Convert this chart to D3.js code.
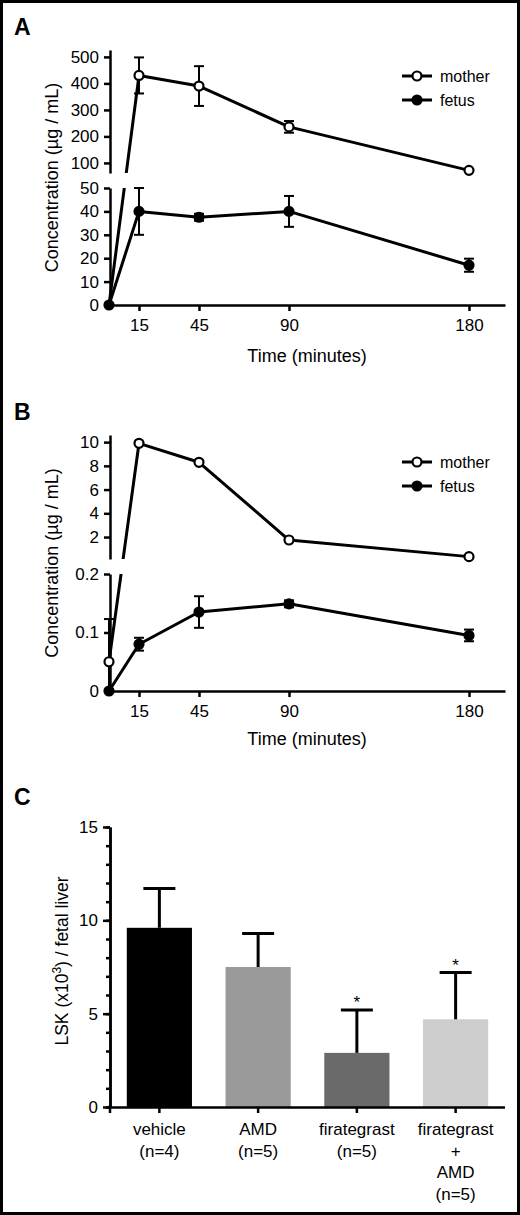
<!DOCTYPE html>
<html>
<head>
<meta charset="utf-8">
<script src="https://cdn.jsdelivr.net/npm/d3@7"></script>
<style>
html,body{margin:0;padding:0;background:#fff;}
svg{display:block;font-family:"Liberation Sans",Arial,Helvetica,sans-serif;}
</style>
</head>
<body>
<svg id="chart" width="520" height="1215"></svg>
<script>
// ---------- DATA ----------
const times = [0, 15, 45, 90, 180];
const xTicks = [15, 45, 90, 180];

const motherA = [0, 430, 390, 236, 72];
const motherAErr = [0, 68, 75, 22, 4];
const fetusA = [0, 40, 37.5, 40, 17];
const fetusAErr = [0, 10, 1.5, 6.6, 2.8];
const ticksAUpper = [100, 200, 300, 400, 500];
const ticksALower = [0, 10, 20, 30, 40, 50];

const motherB = [0.05, 9.9, 8.3, 1.75, 0.35];
const motherBErr = [0.073, 0.12, 0.12, 0.1, 0.05];
const fetusB = [0, 0.08, 0.135, 0.149, 0.095];
const fetusBErr = [0, 0.011, 0.027, 0.006, 0.01];
const ticksBUpper = [2, 4, 6, 8, 10];
const ticksBLower = [0, 0.1, 0.2];

const seriesNames = ["mother", "fetus"];

const groupsC = ["vehicle", "AMD", "firategrast", "firategrast + AMD"];
const groupLabelsC = [["vehicle", "(n=4)"], ["AMD", "(n=5)"], ["firategrast", "(n=5)"], ["firategrast", "+", "AMD", "(n=5)"]];
const valuesC = [9.6, 7.5, 2.9, 4.7];
const errorsC = [2.1, 1.8, 2.3, 2.5];
const colorsC = ["#000000", "#9a9a9a", "#6a6a6a", "#cdcdcd"];
const signifC = [false, false, true, true];
const ticksCMajor = [0, 5, 10, 15];

// ---------- DRAW ----------
const svg = d3.select("#chart");
const FONT = '"Liberation Sans",Arial,Helvetica,sans-serif';

// outer frame
svg.append("rect").attr("x", 1.5).attr("y", 1.5).attr("width", 517).attr("height", 1212)
  .attr("fill", "none").attr("stroke", "#000").attr("stroke-width", 3);

function panelLabel(t, y) {
  svg.append("text").attr("x", 14).attr("y", y).text(t)
    .attr("font-size", 23).attr("font-weight", "bold").attr("fill", "#000");
}

function styleAxis(g, fs) {
  g.selectAll(".domain").attr("stroke", "#000").attr("stroke-width", 2.5);
  g.selectAll(".tick line").attr("stroke", "#000").attr("stroke-width", 2.5);
  g.selectAll(".tick text").attr("font-size", fs || 17).attr("font-family", FONT).attr("fill", "#000");
}

function linePanel(cfg) {
  const g = svg.append("g");
  const x = d3.scaleLinear().domain([0, 198]).range([109, 505]);
  const yU = d3.scaleLinear().domain(cfg.upDom).range(cfg.upRange);
  const yL = d3.scaleLinear().domain(cfg.lowDom).range(cfg.lowRange);
  const lowMax = cfg.lowDom[1];
  const y = v => v <= lowMax ? yL(v) : yU(v);
  const x0 = 110;

  // y axes (broken)
  const axU = g.append("g").attr("transform", `translate(${x0},0)`)
    .call(d3.axisLeft(yU).tickValues(cfg.ticksU).tickSize(6).tickSizeOuter(0).tickPadding(5).tickFormat(d3.format("~g")));
  styleAxis(axU);
  const axL = g.append("g").attr("transform", `translate(${x0},0)`)
    .call(d3.axisLeft(yL).tickValues(cfg.ticksL).tickSize(6).tickSizeOuter(0).tickPadding(5).tickFormat(d3.format("~g")));
  styleAxis(axL);

  // x axis
  const axX = g.append("g").attr("transform", `translate(0,${cfg.lowRange[0]})`)
    .call(d3.axisBottom(x).tickValues(xTicks).tickSize(6).tickSizeOuter(0).tickPadding(8));
  styleAxis(axX);

  // titles
  g.append("text").attr("x", 307).attr("y", cfg.lowRange[0] + cfg.xTitleOff).attr("text-anchor", "middle")
    .attr("font-size", 18).text("Time (minutes)");
  const yc = (cfg.upRange[1] + cfg.lowRange[0]) / 2;
  g.append("text").attr("transform", `translate(58,${yc}) rotate(-90)`).attr("text-anchor", "middle")
    .attr("font-size", 18).text("Concentration (\u00b5g / mL)");

  // clip excluding break gap
  const cid = "clip" + cfg.id;
  const cp = svg.append("clipPath").attr("id", cid);
  cp.append("rect").attr("x", 0).attr("y", 0).attr("width", 520).attr("height", cfg.upRange[0]);
  cp.append("rect").attr("x", 0).attr("y", cfg.lowRange[1]).attr("width", 520).attr("height", 1215 - cfg.lowRange[1]);

  const line = d3.line().x(d => x(d.t)).y(d => y(d.v));
  const series = [
    {name: seriesNames[0], vals: cfg.mother, errs: cfg.motherErr, open: true},
    {name: seriesNames[1], vals: cfg.fetus, errs: cfg.fetusErr, open: false}
  ];
  series.forEach(s => {
    const pts = times.map((t, i) => ({t: t, v: s.vals[i], e: s.errs[i]}));
    g.append("path").datum(pts).attr("d", line).attr("fill", "none")
      .attr("stroke", "#000").attr("stroke-width", 3).attr("stroke-linejoin", "round")
      .attr("clip-path", `url(#${cid})`);
    // error bars
    pts.forEach(p => {
      if (p.e <= 0) return;
      const lo = Math.max(p.v - p.e, 0);
      const hi = p.v + p.e;
      const yl = y(lo), yh = y(hi), xx = x(p.t);
      g.append("line").attr("x1", xx).attr("x2", xx).attr("y1", yl).attr("y2", yh)
        .attr("stroke", "#000").attr("stroke-width", 2);
      [yh, p.v - p.e > 0 ? yl : null].forEach(yy => {
        if (yy === null) return;
        g.append("line").attr("x1", xx - 5).attr("x2", xx + 5).attr("y1", yy).attr("y2", yy)
          .attr("stroke", "#000").attr("stroke-width", 2);
      });
    });
    // markers
    g.selectAll(null).data(pts.filter(p => !(s.open && p.t === 0 && p.v === 0))).enter().append("circle")
      .attr("cx", p => x(p.t)).attr("cy", p => y(p.v))
      .attr("r", 4.5)
      .attr("fill", s.open ? "#fff" : "#000").attr("stroke", "#000").attr("stroke-width", 2.2);
  });

  // legend
  series.forEach((s, i) => {
    const ly = cfg.legendY + i * 24;
    g.append("line").attr("x1", 402).attr("x2", 432).attr("y1", ly).attr("y2", ly)
      .attr("stroke", "#000").attr("stroke-width", 3);
    g.append("circle").attr("cx", 417).attr("cy", ly).attr("r", 4.5)
      .attr("fill", s.open ? "#fff" : "#000").attr("stroke", "#000").attr("stroke-width", 2.2);
    g.append("text").attr("x", 440).attr("y", ly + 5.5).attr("font-size", 16).text(s.name);
  });
}

panelLabel("A", 35);
linePanel({
  id: "A",
  upDom: [62, 526], upRange: [173, 50],
  lowDom: [0, 50], lowRange: [305, 188],
  ticksU: ticksAUpper, ticksL: ticksALower,
  mother: motherA, motherErr: motherAErr, fetus: fetusA, fetusErr: fetusAErr,
  legendY: 76, xTitleOff: 57
});

panelLabel("B", 420);
linePanel({
  id: "B",
  upDom: [0.15, 10.6], upRange: [559, 435],
  lowDom: [0, 0.2], lowRange: [691, 574],
  ticksU: ticksBUpper, ticksL: ticksBLower,
  mother: motherB, motherErr: motherBErr, fetus: fetusB, fetusErr: fetusBErr,
  legendY: 462, xTitleOff: 54
});

// ---------- PANEL C ----------
panelLabel("C", 805);
(function () {
  const g = svg.append("g");
  const x = d3.scaleBand().domain(groupsC).range([110, 505]).paddingInner(0.34).paddingOuter(0.17);
  const y = d3.scaleLinear().domain([0, 15]).range([1107, 827]);

  // minor ticks
  const minor = g.append("g").attr("transform", "translate(110,0)")
    .call(d3.axisLeft(y).tickValues(d3.range(0, 16, 1)).tickSize(4).tickSizeOuter(0).tickFormat(""));
  styleAxis(minor);
  const major = g.append("g").attr("transform", "translate(110,0)")
    .call(d3.axisLeft(y).tickValues(ticksCMajor).tickSize(7).tickSizeOuter(0).tickPadding(5));
  styleAxis(major);

  // bars
  g.selectAll(null).data(groupsC).enter().append("rect")
    .attr("x", d => x(d)).attr("width", x.bandwidth())
    .attr("y", (d, i) => y(valuesC[i])).attr("height", (d, i) => y(0) - y(valuesC[i]))
    .attr("fill", (d, i) => colorsC[i]);

  // error bars (upper only)
  groupsC.forEach((d, i) => {
    const cx = x(d) + x.bandwidth() / 2;
    const yt = y(valuesC[i] + errorsC[i]);
    g.append("line").attr("x1", cx).attr("x2", cx).attr("y1", y(valuesC[i])).attr("y2", yt)
      .attr("stroke", "#000").attr("stroke-width", 3);
    g.append("line").attr("x1", cx - 16).attr("x2", cx + 16).attr("y1", yt).attr("y2", yt)
      .attr("stroke", "#000").attr("stroke-width", 3);
    if (signifC[i]) {
      g.append("text").attr("x", cx).attr("y", yt - 2).attr("text-anchor", "middle")
        .attr("font-size", 17).text("*");
    }
  });

  // x axis
  const axX = g.append("g").attr("transform", "translate(0,1107)")
    .call(d3.axisBottom(x).tickSize(6).tickSizeOuter(0).tickFormat(""));
  styleAxis(axX);
  axX.select(".domain").attr("d", "M108,0.5H505");
  g.append("line").attr("x1", 110).attr("x2", 110).attr("y1", 1105).attr("y2", 1113)
    .attr("stroke", "#000").attr("stroke-width", 2.5);

  // category labels
  groupsC.forEach((d, i) => {
    const cx = x(d) + x.bandwidth() / 2;
    const t = g.append("text").attr("text-anchor", "middle").attr("font-size", 17);
    groupLabelsC[i].forEach((ln, j) => {
      t.append("tspan").attr("x", cx).attr("y", 1135 + j * 21.5).text(ln);
    });
  });

  // y title
  const yt = g.append("text").attr("transform", "translate(68,961) rotate(-90)").attr("text-anchor", "middle")
    .attr("font-size", 17.5);
  yt.append("tspan").text("LSK (x10");
  yt.append("tspan").attr("font-size", 12).attr("dy", -7).text("3");
  yt.append("tspan").attr("dy", 7).text(") / fetal liver");
})();
</script>
</body>
</html>
